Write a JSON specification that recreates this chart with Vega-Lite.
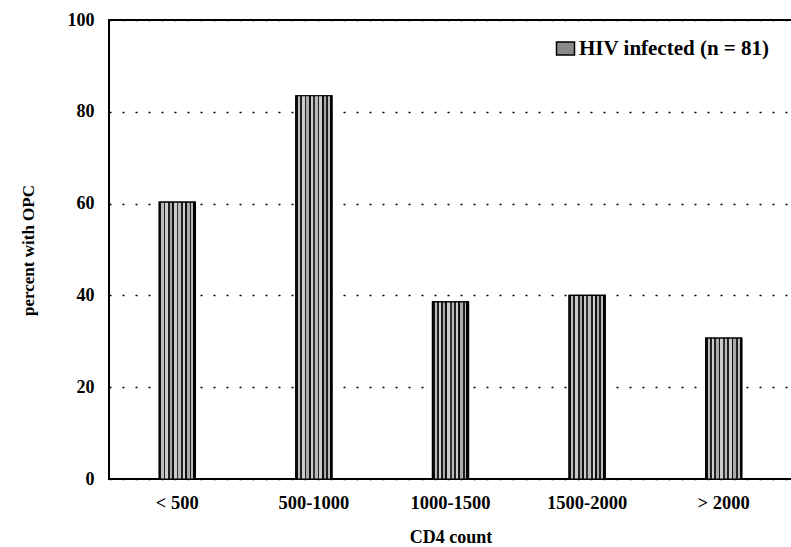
{
  "$schema": "https://vega.github.io/schema/vega-lite/v6.json",
  "width": 683,
  "height": 459,
  "autosize": {"type": "none"},
  "padding": {"left": 109, "top": 20, "right": 0, "bottom": 68},
  "background": "white",
  "config": {
    "view": {"stroke": "black", "strokeWidth": 2},
    "font": "Liberation Serif"
  },
  "data": {
    "values": [
      {"cd4": "< 500", "pct": 60.3, "group": "HIV infected (n = 81)"},
      {"cd4": "500-1000", "pct": 83.5, "group": "HIV infected (n = 81)"},
      {"cd4": "1000-1500", "pct": 38.6, "group": "HIV infected (n = 81)"},
      {"cd4": "1500-2000", "pct": 40.0, "group": "HIV infected (n = 81)"},
      {"cd4": "> 2000", "pct": 30.7, "group": "HIV infected (n = 81)"}
    ]
  },
  "encoding": {
    "x": {
      "field": "cd4", "type": "nominal", "sort": null,
      "scale": {"paddingInner": 0.736, "paddingOuter": 0.368},
      "axis": {
        "title": "CD4 count", "labelAngle": 0, "ticks": false, "domain": false,
        "labelFont": "Liberation Serif", "labelFontSize": 18.5, "labelFontWeight": "bold", "labelColor": "black",
        "labelPadding": 14,
        "titleFont": "Liberation Serif", "titleFontSize": 18, "titleFontWeight": "bold", "titleColor": "black",
        "titleY": 58, "titleBaseline": "middle"
      }
    },
    "y": {
      "field": "pct", "type": "quantitative",
      "scale": {"domain": [0, 100], "nice": false},
      "axis": {
        "title": "percent with OPC", "values": [0, 20, 40, 60, 80, 100],
        "ticks": false, "domain": false,
        "grid": true, "gridColor": "black", "gridDash": [2, 11], "gridWidth": 1.5,
        "labelFont": "Liberation Serif", "labelFontSize": 18, "labelFontWeight": "bold", "labelColor": "black",
        "labelPadding": 15,
        "titleFont": "Liberation Serif", "titleFontSize": 17, "titleFontWeight": "bold", "titleColor": "black",
        "titleX": -81, "titleY": 230, "titleAngle": -90, "titleAlign": "center", "titleBaseline": "middle"
      }
    }
  },
  "layer": [
    {
      "mark": {"type": "bar", "stroke": "black", "strokeWidth": 1.2},
      "encoding": {
        "color": {
          "field": "group", "type": "nominal",
          "scale": {"range": ["#8a8a8a"]},
          "legend": {
            "title": null, "orient": "none", "legendX": 446, "legendY": 18,
            "symbolType": "M-1,-0.72H1V0.72H-1Z", "symbolSize": 324, "symbolStrokeColor": "black", "symbolStrokeWidth": 1.5,
            "symbolOpacity": 1,
            "labelFont": "Liberation Serif", "labelFontSize": 21, "labelFontWeight": "bold", "labelColor": "black",
            "labelOffset": 3, "labelLimit": 400
          }
        }
      }
    },
    {
      "mark": {
        "type": "bar", "stroke": "black", "strokeWidth": 1.2,
        "fill": {
          "gradient": "linear", "x1": 0, "x2": 1, "y1": 0, "y2": 0,
          "stops": [
            {"offset": 0, "color": "#111"}, {"offset": 0.06, "color": "#111"},
            {"offset": 0.06, "color": "#bbb"}, {"offset": 0.12, "color": "#bbb"},
            {"offset": 0.12, "color": "#222"}, {"offset": 0.17, "color": "#222"},
            {"offset": 0.17, "color": "#ccc"}, {"offset": 0.24, "color": "#ccc"},
            {"offset": 0.24, "color": "#222"}, {"offset": 0.29, "color": "#222"},
            {"offset": 0.29, "color": "#aaa"}, {"offset": 0.36, "color": "#aaa"},
            {"offset": 0.36, "color": "#111"}, {"offset": 0.41, "color": "#111"},
            {"offset": 0.41, "color": "#ccc"}, {"offset": 0.48, "color": "#ccc"},
            {"offset": 0.48, "color": "#333"}, {"offset": 0.53, "color": "#333"},
            {"offset": 0.53, "color": "#bbb"}, {"offset": 0.6, "color": "#bbb"},
            {"offset": 0.6, "color": "#222"}, {"offset": 0.65, "color": "#222"},
            {"offset": 0.65, "color": "#ccc"}, {"offset": 0.72, "color": "#ccc"},
            {"offset": 0.72, "color": "#111"}, {"offset": 0.77, "color": "#111"},
            {"offset": 0.77, "color": "#aaa"}, {"offset": 0.84, "color": "#aaa"},
            {"offset": 0.84, "color": "#222"}, {"offset": 0.89, "color": "#222"},
            {"offset": 0.89, "color": "#bbb"}, {"offset": 0.94, "color": "#bbb"},
            {"offset": 0.94, "color": "#000"}, {"offset": 1, "color": "#000"}
          ]
        }
      }
    }
  ]
}
